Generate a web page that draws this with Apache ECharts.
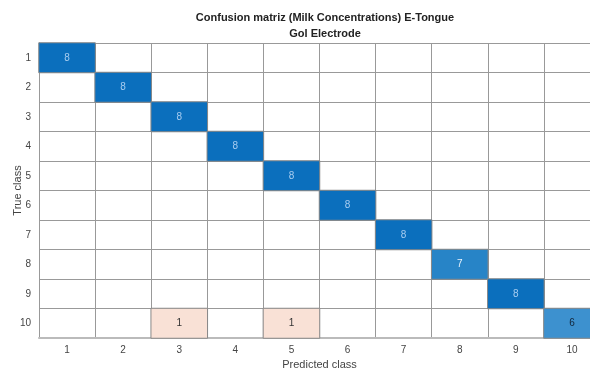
<!DOCTYPE html>
<html>
<head>
<meta charset="utf-8">
<script src="https://cdn.jsdelivr.net/npm/echarts@6/dist/echarts.min.js"></script>
<style>html,body{margin:0;padding:0;background:#fff}#c{width:590px;height:370px}</style>
</head>
<body>
<div id="c"></div>
<script>
const classes = ['1','2','3','4','5','6','7','8','9','10'];
const titleLine1 = 'Confusion matriz (Milk Concentrations) E-Tongue';
const titleLine2 = 'Gol Electrode';
const xName = 'Predicted class';
const yName = 'True class';
// rows = true class, columns = predicted class
const row1  = [8,0,0,0,0,0,0,0,0,0];
const row2  = [0,8,0,0,0,0,0,0,0,0];
const row3  = [0,0,8,0,0,0,0,0,0,0];
const row4  = [0,0,0,8,0,0,0,0,0,0];
const row5  = [0,0,0,0,8,0,0,0,0,0];
const row6  = [0,0,0,0,0,8,0,0,0,0];
const row7  = [0,0,0,0,0,0,8,0,0,0];
const row8  = [0,0,0,0,0,0,0,7,0,0];
const row9  = [0,0,0,0,0,0,0,0,8,0];
const row10 = [0,0,1,0,1,0,0,0,0,6];
const matrix = [row1,row2,row3,row4,row5,row6,row7,row8,row9,row10];

const diagColors = {8:'#0b6fbd', 7:'#2784c7', 6:'#3d91cf'};
const diagText = {8:'#a8cdf0', 7:'#e8f2fb', 6:'#13263a'};
const offColor = '#f9e1d6';

const data = [];
matrix.forEach((row, r) => {
  row.forEach((v, c) => {
    if (v > 0) {
      const diag = r === c;
      data.push({
        value: [c, r, v],
        itemStyle: { color: diag ? diagColors[v] : offColor },
        label: { color: diag ? diagText[v] : '#333' }
      });
    } else {
      data.push({ value: [c, r, '-'], itemStyle: { color: '#fff' } });
    }
  });
});

const chart = echarts.init(document.getElementById('c'));
chart.setOption({
  animation: false,
  backgroundColor: '#fff',
  title: {
    text: titleLine1 + '\n' + titleLine2,
    left: 320, top: 5, textAlign: 'center',
    textStyle: { fontFamily: 'Liberation Sans', fontSize: 11, fontWeight: 'bold', color: '#222', lineHeight: 16 }
  },
  grid: { left: 39, right: -10, top: 43, bottom: 32, containLabel: false, outerBoundsMode: 'none' },
  xAxis: {
    type: 'category', data: classes,
    name: xName, nameLocation: 'middle', nameGap: 21, nameMoveOverlap: false,
    nameTextStyle: { fontFamily: 'Liberation Sans', fontSize: 11, color: '#444' },
    axisTick: { show: false },
    axisLine: { show: true, lineStyle: { color: '#bbb', width: 2 } },
    axisLabel: { fontFamily: 'Liberation Sans', fontSize: 10, color: '#444', margin: 7 },
    splitLine: { show: true, lineStyle: { color: '#999', width: 1 } }
  },
  yAxis: {
    type: 'category', data: classes, inverse: true,
    name: yName, nameLocation: 'middle', nameGap: 16, nameMoveOverlap: false,
    nameTextStyle: { fontFamily: 'Liberation Sans', fontSize: 11, color: '#444' },
    axisTick: { show: false },
    axisLine: { show: true, lineStyle: { color: '#999', width: 1 } },
    axisLabel: { fontFamily: 'Liberation Sans', fontSize: 10, color: '#444', margin: 8 },
    splitLine: { show: true, lineStyle: { color: '#999', width: 1 } }
  },
  series: [{
    type: 'heatmap',
    data: data,
    itemStyle: { borderColor: '#888', borderWidth: 1 },
    label: { show: true, fontFamily: 'Liberation Sans', fontSize: 10,
      formatter: p => (p.value[2] === '-' ? '' : p.value[2]) },
    emphasis: { disabled: true }
  }]
});
</script>
</body>
</html>
